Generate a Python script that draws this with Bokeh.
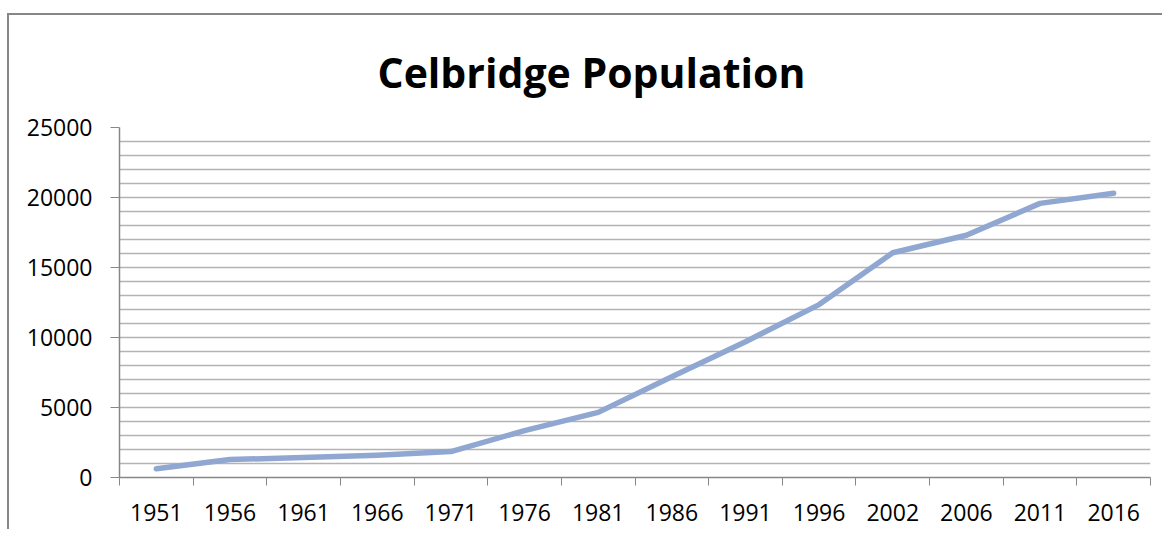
from bokeh.plotting import figure
from bokeh.models import FixedTicker, Range1d
from bokeh.embed import file_html
from bokeh.resources import INLINE

years = ["1951", "1956", "1961", "1966", "1971", "1976", "1981", "1986",
         "1991", "1996", "2002", "2006", "2011", "2016"]
population = [620, 1280, 1430, 1590, 1850, 3350, 4650, 7200,
              9700, 12350, 16050, 17300, 19580, 20300]
y_ticks = [0, 5000, 10000, 15000, 20000, 25000]

xs = [i + 0.5 for i in range(len(years))]

p = figure(width=1155, height=516, output_backend="svg", toolbar_location=None,
           x_range=Range1d(0, len(years)), y_range=Range1d(0, 25000),
           min_border_left=110, min_border_right=14, min_border_bottom=54,
           min_border_top=112)
p.margin = (13, 0, 0, 7)
p.styles = {"border-top": "2px solid #878787", "border-left": "2px solid #878787"}

p.title.text = "Celbridge  Population"
p.title.text_font = "Open Sans"
p.title.text_font_style = "bold"
p.title.text_font_size = "41px"
p.title.text_color = "#000000"
p.title.align = "left"
p.title.offset = 258
p.title.standoff = 51
p.title.vertical_align = "top"

p.outline_line_color = None
p.background_fill_color = "white"
p.border_fill_color = "white"

# line
p.line(xs, population, line_color="#8FA7D1", line_width=5.5,
       line_cap="round", line_join="round")

# x axis
xa = p.xaxis[0]
xa.ticker = FixedTicker(ticks=xs, minor_ticks=list(range(len(years) + 1)))
xa.major_label_overrides = {x: y for x, y in zip(xs, years)}
xa.major_tick_out = 0
xa.major_tick_in = 0
xa.minor_tick_out = 8
xa.minor_tick_in = 0
xa.minor_tick_line_color = "#878787"
xa.axis_line_color = "#878787"
xa.axis_line_width = 1.5
xa.major_label_text_font = "Open Sans"
xa.major_label_text_font_size = "23px"
xa.major_label_text_color = "#000000"
xa.major_label_standoff = 18

# y axis
ya = p.yaxis[0]
ya.ticker = FixedTicker(ticks=y_ticks)
ya.major_tick_out = 9
ya.major_tick_in = 0
ya.minor_tick_out = 0
ya.minor_tick_in = 0
ya.major_tick_line_color = "#878787"
ya.axis_line_color = "#878787"
ya.axis_line_width = 1.5
ya.major_label_text_font = "Open Sans"
ya.major_label_text_font_size = "23px"
ya.major_label_text_color = "#000000"
ya.major_label_standoff = 18

# grid
p.xgrid.grid_line_color = None
p.ygrid.ticker = FixedTicker(ticks=list(range(0, 25001, 1000)))
p.ygrid.grid_line_color = "#B3B3B3"
p.ygrid.grid_line_width = 1.5

open("out.html", "w").write(file_html(p, INLINE))
